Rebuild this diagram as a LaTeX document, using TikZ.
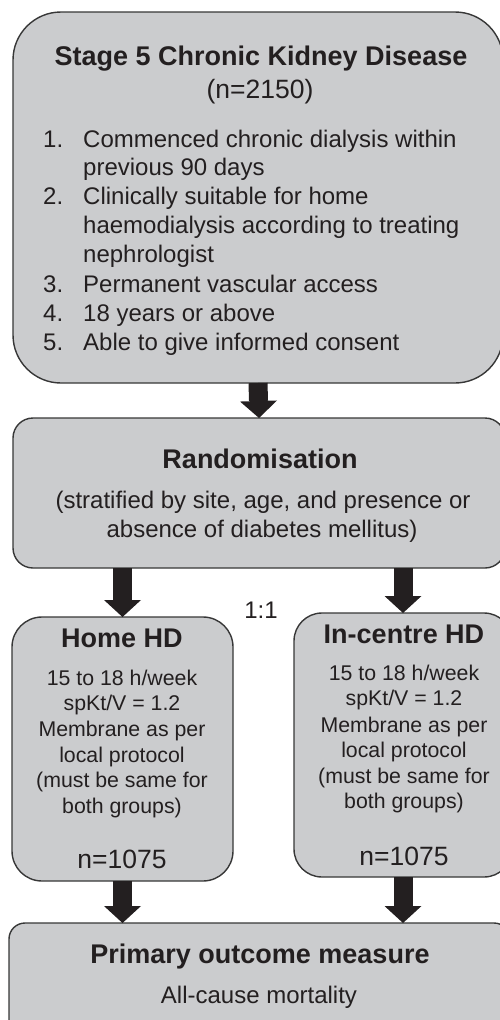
\documentclass[tikz,border=0pt]{standalone}
\usepackage{fontspec}
\setmainfont{Liberation Sans}
\usetikzlibrary{arrows.meta}
\definecolor{boxfill}{RGB}{203,204,206}
\definecolor{boxline}{RGB}{55,55,55}
\definecolor{ink}{RGB}{35,31,32}
\begin{document}
\begin{tikzpicture}[x=1pt,y=-1pt,
  box/.style={draw=boxline, fill=boxfill, line width=1.4pt, rectangle, inner sep=0pt, outer sep=0pt, anchor=north west},
  ttl/.style={font=\fontsize{27}{32}\selectfont\bfseries, text=ink, anchor=base, inner sep=0pt},
  big/.style={font=\fontsize{26.5}{31}\selectfont, text=ink, anchor=base, inner sep=0pt},
  body/.style={font=\fontsize{24}{29}\selectfont, text=ink, anchor=base, inner sep=0pt},
  item/.style={font=\fontsize{24}{29}\selectfont, text=ink, anchor=base west, inner sep=0pt},
  small/.style={font=\fontsize{21.3}{25.6}\selectfont, text=ink, anchor=base, inner sep=0pt},
  blockarrow/.style={draw=ink, line width=19pt, line cap=butt,
     -{Triangle[width=37pt,length=17pt,line width=0pt]}},
]
\useasboundingbox (0,0) rectangle (500,1020);
\clip (0,0) rectangle (500,1020);

% boxes
\node[box, rounded corners=48pt, minimum width=490pt, minimum height=371pt] (b1) at (13,12) {};
\node[box, rounded corners=20pt, minimum width=492pt, minimum height=150pt] (b2) at (13,418) {};
\node[box, rounded corners=30pt, minimum width=221pt, minimum height=264pt] (home) at (12,617) {};
\node[box, rounded corners=28pt, minimum width=218pt, minimum height=264pt] (inc) at (294,613) {};
\node[box, rounded corners=16pt, minimum width=501pt, minimum height=140pt] (out) at (9,923) {};

% connectors
\draw[blockarrow] (b1.south) -- (b2.north);
\draw[blockarrow] (b2.south -| home.north) -- (home.north);
\draw[blockarrow] (b2.south -| inc.north) -- (inc.north);
\draw[blockarrow] (home.south) -- (home.south |- out.north);
\draw[blockarrow] (inc.south) -- (inc.south |- out.north);

% box 1 text
\node[ttl] (t1) at (261,65) {Stage 5 Chronic Kidney Disease};
\node[big] (t1n) at (260,98) {(n=2150)};
\node[item] (i1) at (43,147) {1.};
\node[item] (i1a) at (83,147) {Commenced chronic dialysis within};
\node[item] (i1b) at (83,175) {previous 90 days};
\node[item] (i2) at (43,204) {2.};
\node[item] (i2a) at (83,204) {Clinically suitable for home};
\node[item] (i2b) at (83,233) {haemodialysis according to treating};
\node[item] (i2c) at (83,262) {nephrologist};
\node[item] (i3) at (43,292) {3.};
\node[item] (i3a) at (83,292) {Permanent vascular access};
\node[item] (i4) at (43,321) {4.};
\node[item] (i4a) at (83,321) {18 years or above};
\node[item] (i5) at (43,350) {5.};
\node[item] (i5a) at (83,350) {Able to give informed consent};

% box 2 text
\node[ttl] (t2) at (260,468) {Randomisation};
\node[body] (t2a) at (263,508) {(stratified by site, age, and presence or};
\node[body] (t2b) at (262,537) {absence of diabetes mellitus)};

\node[body] (ratio) at (261,618) {1:1};

% home box text
\node[ttl] (th) at (122,647) {Home HD};
\node[small] (h1) at (122,685) {15 to 18 h/week};
\node[small] (h2) at (122,710) {spKt/V = 1.2};
\node[small] (h3) at (122,736) {Membrane as per};
\node[small] (h4) at (122,762) {local protocol};
\node[small] (h5) at (122,787) {(must be same for};
\node[small] (h6) at (122,813) {both groups)};
\node[big] (hn) at (122,868) {n=1075};

% in-centre box text
\node[ttl] (tc) at (404,643) {In-centre HD};
\node[small] (c1) at (404,680) {15 to 18 h/week};
\node[small] (c2) at (404,705) {spKt/V = 1.2};
\node[small] (c3) at (404,732) {Membrane as per};
\node[small] (c4) at (404,757) {local protocol};
\node[small] (c5) at (404,783) {(must be same for};
\node[small] (c6) at (404,808) {both groups)};
\node[big] (cn) at (404,865) {n=1075};

% outcome box text
\node[ttl] (to) at (260,963) {Primary outcome measure};
\node[body] (to1) at (259,1003) {All-cause mortality};
\end{tikzpicture}
\end{document}
